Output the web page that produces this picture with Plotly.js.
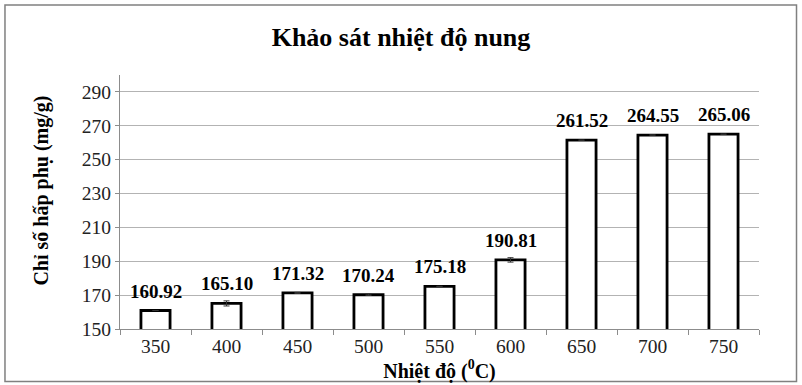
<!DOCTYPE html>
<html>
<head>
<meta charset="utf-8">
<script src="https://cdn.plot.ly/plotly-3.0.1.min.js"></script>
<style>html,body{margin:0;padding:0;background:#fff;}#chart{width:802px;height:385px;}</style>
</head>
<body>
<div id="chart"></div>
<script>
const categories = ["350", "400", "450", "500", "550", "600", "650", "700", "750"];
const values = [160.92, 165.10, 171.32, 170.24, 175.18, 190.81, 261.52, 264.55, 265.06];
const errors = [0, 1.5, 0.3, 0.4, 0, 1.3, 0, 0, 0];
const yTicks = [150, 170, 190, 210, 230, 250, 270, 290];
const yTitle = "Chỉ số hấp phụ (mg/g)";

const serif = "Liberation Serif, Times New Roman, serif";

const trace = {
  type: "bar",
  x: categories,
  y: values,
  marker: {color: "#ffffff", line: {color: "#000000", width: 2.8}},
  error_y: {type: "data", array: errors, visible: true, color: "#333", thickness: 1, width: 3},
  hoverinfo: "x+y"
};

const labels = categories.map((c, i) => ({
  x: i, y: values[i], xref: "x", yref: "y",
  text: "<b>" + values[i].toFixed(2) + "</b>",
  showarrow: false, yanchor: "bottom", xanchor: "center", yshift: 7,
  font: {family: serif, size: 19, color: "#000"}
}));

labels.push({
  xref: "paper", yref: "paper", x: -0.122, y: 0.545,
  text: "<b>" + yTitle + "</b>", textangle: -90,
  showarrow: false, xanchor: "center", yanchor: "middle",
  font: {family: serif, size: 20, color: "#000"}
});

const layout = {
  width: 802, height: 385,
  margin: {l: 120, r: 43, t: 75, b: 56},
  paper_bgcolor: "#fff", plot_bgcolor: "#fff",
  showlegend: false,
  bargap: 0.59,
  title: {text: "<b>Khảo sát nhiệt độ nung</b>", font: {family: serif, size: 26, color: "#000"}, x: 0.5, xanchor: "center", y: 0.905, yanchor: "middle"},
  xaxis: {
    type: "category",
    range: [-0.5, categories.length - 0.5],
    tickson: "boundaries",
    ticks: "outside", ticklen: 5, tickcolor: "#8c8c8c",
    showline: true, linecolor: "#8c8c8c", linewidth: 1,
    showgrid: false,
    tickfont: {family: serif, size: 19.5, color: "#222"},
    title: {text: "<b>Nhiệt độ (<sup>0</sup>C)</b>", font: {family: serif, size: 20, color: "#000"}, standoff: 0}
  },
  yaxis: {
    range: [150, 300],
    tickvals: yTicks,
    ticktext: yTicks.map(String),
    ticks: "outside", ticklen: 4, tickcolor: "#8c8c8c",
    showline: true, linecolor: "#8c8c8c", linewidth: 1,
    showgrid: true, gridcolor: "#b3b3b3", gridwidth: 1,
    zeroline: false,
    tickfont: {family: serif, size: 19.5, color: "#222"}
  },
  annotations: labels,
  shapes: [{
    type: "rect", xref: "paper", yref: "paper",
    x0: -0.18, x1: 1.0587, y0: -0.2067, y1: 1.2756,
    line: {color: "#808080", width: 1.5}, fillcolor: "rgba(0,0,0,0)", layer: "below"
  }]
};

Plotly.newPlot("chart", [trace], layout, {displayModeBar: false, staticPlot: true});
</script>
</body>
</html>
